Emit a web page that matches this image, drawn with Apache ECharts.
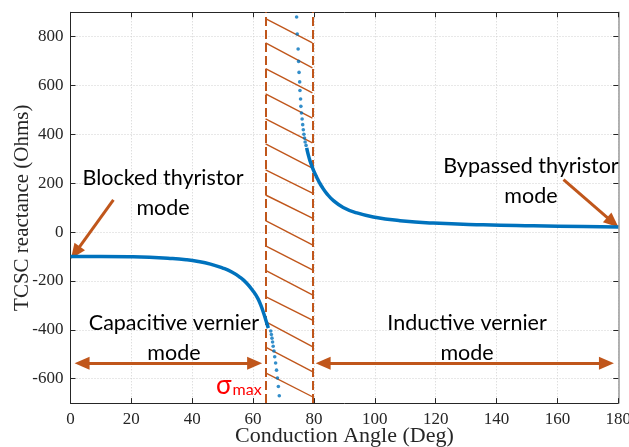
<!DOCTYPE html>
<html>
<head>
<meta charset="utf-8">
<script src="https://cdn.jsdelivr.net/npm/echarts@6/dist/echarts.min.js"></script>
<style>
  html, body { margin: 0; padding: 0; background: #fff; }
  #chart { width: 629px; height: 447px; }
</style>
</head>
<body>
<div id="chart"></div>
<script>
// Tick positions
const xTicks = [0, 20, 40, 60, 80, 100, 120, 140, 160, 180];
const yTicks = [-600, -400, -200, 0, 200, 400, 600, 800];

// Capacitive branch (continuous part)
const angleLow = [0, 10, 20, 26, 32, 38, 42, 46, 50, 53, 55.5, 57.9, 60.1, 61.5, 62.5, 63.5, 64.3, 65.0];
const reactLow = [-100, -100, -101, -103, -107, -113, -120, -131, -147, -163, -183, -209, -243, -270, -298, -333, -365, -393];

// Capacitive branch (sparse samples near resonance)
const angleDotsLow = [65.8, 66.0, 66.2, 66.4, 66.6, 66.85, 67.1, 67.4, 67.7, 68.0, 68.3, 68.6];
const reactDotsLow = [-405, -419, -434, -450, -467, -487, -510, -536, -565, -597, -632, -670];

// Inductive branch (sparse samples near resonance)
const angleDotsHigh = [74.3, 74.5, 74.8, 74.95, 75.1, 75.3, 75.4, 75.6, 75.7, 75.9, 76.1, 76.3, 76.5, 76.7, 76.9, 77.1, 77.4];
const reactDotsHigh = [881, 811, 750, 699, 654, 615, 580, 545, 515, 488, 463, 440, 419, 401, 385, 369, 355];

// Inductive branch (continuous part)
const angleHigh = [77.6, 78.2, 78.8, 79.5, 80.2, 80.9, 81.7, 82.5, 84.2, 86.4, 89.6, 94.0, 99.5, 108.3, 119.2, 135.6, 152.1, 168.5, 180];
const reactHigh = [345, 313, 288, 264, 243, 225, 205, 188, 158, 129, 101, 79, 62, 47, 37, 30, 26, 23, 21];

// Forbidden band boundaries and its hatching (left-end / right-end levels)
const bandEdges = [64.1, 79.5];
const hatchLeft = [874, 775, 669, 566, 464, 361, 255, 152, 47, -56, -157, -264, -366, -471, -576];
const hatchRight = [775, 672, 570, 467, 365, 262, 160, 57, -52, -155, -257, -360, -469, -571, -674];

const BLUE = '#0072bd';
const ORANGE = '#c0561b';
const AXIS = '#262626';
const GRID = '#d0d0d0';

const zip = (a, b) => a.map((v, i) => [v, b[i]]);

const chart = echarts.init(document.getElementById('chart'), null, { renderer: 'canvas' });

const baseX = {
  type: 'value', min: 0, max: 180, interval: 4,
  axisLine: { show: true, onZero: false, lineStyle: { color: AXIS, width: 1 } },
  axisTick: { show: true, inside: true, length: 5, customValues: xTicks, lineStyle: { color: AXIS } },
  splitLine: { show: false },
  axisLabel: { show: false }
};
const baseY = {
  type: 'value', min: -700, max: 900, interval: 50,
  axisLine: { show: true, onZero: false, lineStyle: { color: AXIS, width: 1 } },
  axisTick: { show: true, inside: true, length: 5, customValues: yTicks, lineStyle: { color: AXIS } },
  splitLine: { show: false },
  axisLabel: { show: false }
};

const hatchLines = hatchLeft.map((y, i) => [
  { coord: [bandEdges[0], y] },
  { coord: [bandEdges[1], hatchRight[i]] }
]);

const arrowStyle = { color: ORANGE, width: 3, type: 'solid' };

const option = {
  animation: false,
  backgroundColor: '#ffffff',
  grid: { left: 70.5, right: 10.7, top: 12.3, bottom: 43.9, containLabel: false, outerBoundsMode: 'none' },
  xAxis: [
    Object.assign({}, baseX, {
      position: 'bottom',
      name: 'Conduction Angle (Deg)',
      nameLocation: 'middle',
      nameGap: 22,
      nameMoveOverlap: false,
      nameTextStyle: { fontFamily: 'Liberation Serif', fontSize: 22, color: AXIS },
      splitLine: { show: true, lineStyle: { color: GRID, type: [1, 2], width: 1 } },
      axisLabel: { show: true, customValues: xTicks, margin: 8, fontFamily: 'Liberation Serif', fontSize: 17, color: AXIS }
    }),
    Object.assign({}, baseX, { position: 'top' })
  ],
  yAxis: [
    Object.assign({}, baseY, {
      position: 'left',
      name: 'TCSC reactance (Ohms)',
      nameLocation: 'middle',
      nameGap: 38,
      nameMoveOverlap: false,
      nameTextStyle: { fontFamily: 'Liberation Serif', fontSize: 21, color: AXIS },
      splitLine: { show: true, lineStyle: { color: GRID, type: [1, 2], width: 1 } },
      axisLabel: { show: true, customValues: yTicks, margin: 7, fontFamily: 'Liberation Serif', fontSize: 17, color: AXIS }
    }),
    Object.assign({}, baseY, {
      position: 'right',
      axisLine: { show: true, onZero: false, lineStyle: { color: '#9a9a9a', width: 1.5 } }
    })
  ],
  series: [
    {
      name: 'capacitive',
      type: 'line',
      data: zip(angleLow, reactLow),
      showSymbol: false,
      smooth: 0.5,
      lineStyle: { color: BLUE, width: 3.5 },
      z: 5,
      markLine: {
        silent: true,
        animation: false,
        symbol: 'none',
        label: { show: false },
        emphasis: { disabled: true },
        data: [
          { xAxis: bandEdges[0], lineStyle: { color: ORANGE, width: 2, type: [9, 4] } },
          { xAxis: bandEdges[1], lineStyle: { color: ORANGE, width: 2, type: [9, 4] } }
        ].concat(hatchLines.map(p => [
          Object.assign({ lineStyle: { color: ORANGE, width: 1.4, type: 'solid' } }, p[0]),
          p[1]
        ]))
      }
    },
    {
      name: 'inductive',
      type: 'line',
      data: zip(angleHigh, reactHigh),
      showSymbol: false,
      smooth: 0.5,
      lineStyle: { color: BLUE, width: 3.5 },
      z: 5,
      markLine: {
        silent: true,
        animation: false,
        label: { show: false },
        emphasis: { disabled: true },
        symbolSize: [13, 15],
        data: [
          // blocked thyristor mode
          [{ coord: [14.1, 132], symbol: 'none', lineStyle: arrowStyle }, { coord: [1.6, -84], symbol: 'triangle' }],
          // bypassed thyristor mode
          [{ coord: [162.0, 215], symbol: 'none', lineStyle: arrowStyle }, { coord: [178.2, 40], symbol: 'triangle' }],
          // capacitive vernier mode
          [{ coord: [3.8, -537], symbol: 'triangle', lineStyle: arrowStyle }, { coord: [60.5, -537], symbol: 'triangle' }],
          // inductive vernier mode
          [{ coord: [83.0, -537], symbol: 'triangle', lineStyle: arrowStyle }, { coord: [176.1, -537], symbol: 'triangle' }]
        ]
      }
    },
    {
      name: 'samples',
      type: 'scatter',
      data: zip(angleDotsLow, reactDotsLow).concat(zip(angleDotsHigh, reactDotsHigh)),
      symbol: 'circle',
      symbolSize: 3.6,
      itemStyle: { color: BLUE },
      silent: true,
      z: 5
    }
  ]
};

chart.setOption(option);

// Text annotations anchored to data coordinates
const notes = [
  { at: [30.4, 161], text: 'Blocked thyristor\nmode' },
  { at: [151.3, 210], text: 'Bypassed thyristor\nmode' },
  { at: [34.0, -433], text: 'Capacitive vernier\nmode' },
  { at: [130.3, -433], text: 'Inductive vernier\nmode' }
];
const graphics = notes.map(n => {
  const p = chart.convertToPixel({ xAxisIndex: 0, yAxisIndex: 0 }, n.at);
  return {
    type: 'text', x: p[0], y: p[1], z: 20, silent: true,
    style: {
      text: n.text, fill: '#000000', font: '21.5px Lato',
      align: 'center', verticalAlign: 'middle', lineHeight: 30
    }
  };
});
const sp = chart.convertToPixel({ xAxisIndex: 0, yAxisIndex: 0 }, [47.8, -680]);
graphics.push({
  type: 'text', x: sp[0], y: sp[1], z: 20, silent: true,
  style: {
    text: '{s|σ}{m|max}',
    verticalAlign: 'bottom',
    rich: {
      s: { fill: '#ff0000', fontFamily: 'Lato', fontSize: 26, verticalAlign: 'bottom' },
      m: { fill: '#ff0000', fontFamily: 'Lato', fontSize: 16, verticalAlign: 'bottom', padding: [0, 0, 0, 1] }
    }
  }
});
chart.setOption({ graphic: graphics });
</script>
</body>
</html>
